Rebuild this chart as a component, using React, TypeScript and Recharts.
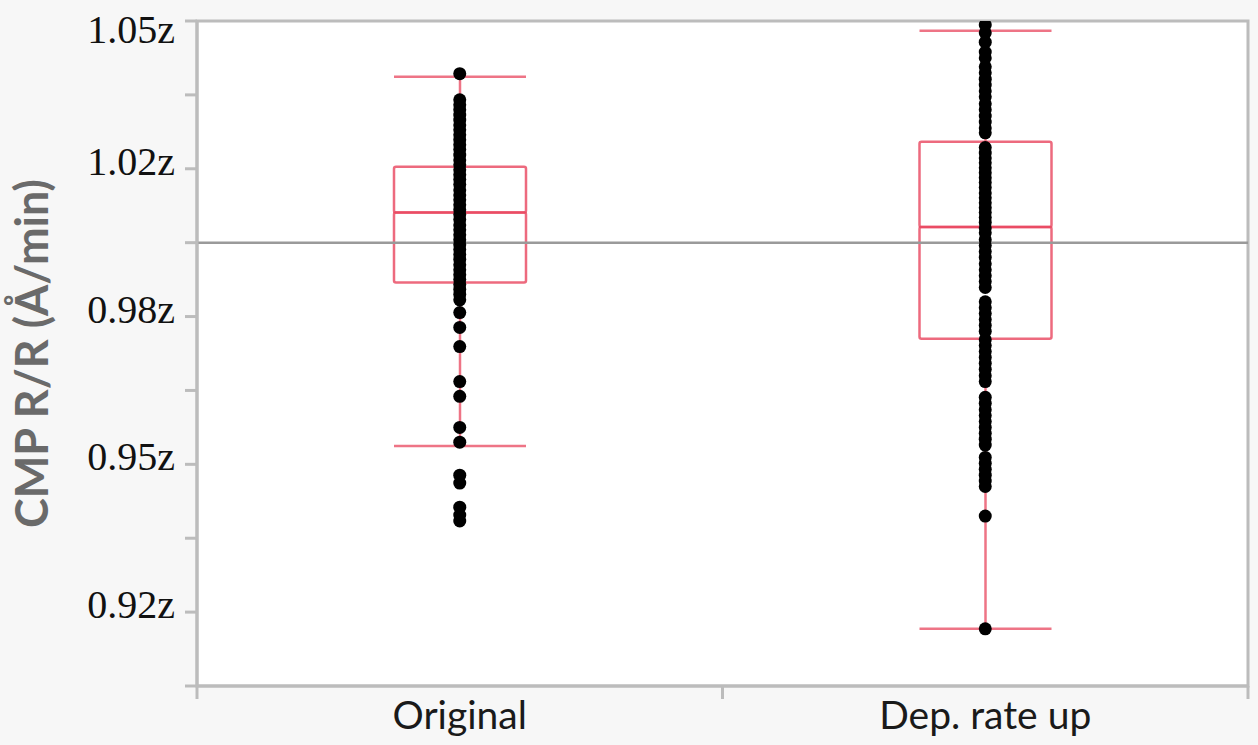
import { ComposedChart, Bar, Scatter, XAxis, YAxis, ReferenceLine, ReferenceArea, CartesianGrid, Label } from "recharts";

const categories = ["Original", "Dep. rate up"];
const whiskerLow = [0.9587, 0.9216];
const q1 = [0.9919, 0.9805];
const median = [1.0061, 1.0032];
const q3 = [1.0154, 1.0205];
const whiskerHigh = [1.0337, 1.043];

const originalPoints = [
  1.0343, 1.029, 1.028, 1.027, 1.0259, 1.0249, 1.0239, 1.0229, 1.0219, 1.0209, 1.0199, 1.0189, 1.0178,
  1.0168, 1.0158, 1.0148, 1.0138, 1.0128, 1.0118, 1.0107, 1.0097, 1.0087, 1.0077, 1.0067, 1.0057, 1.0047,
  1.0036, 1.0026, 1.0016, 1.0006, 0.9996, 0.9986, 0.9976, 0.9966, 0.9955, 0.9945, 0.9935, 0.9925, 0.9915,
  0.9905, 0.9895, 0.9884, 0.9858, 0.9828, 0.9789, 0.9718, 0.9688, 0.9625, 0.9595, 0.9528, 0.9512, 0.9463,
  0.9447, 0.9435,
];

const depRatePoints = [
  1.0442, 1.0426, 1.0407, 1.0387, 1.0375, 1.0357, 1.0345, 1.0332, 1.032, 1.0308, 1.0296, 1.0282, 1.027,
  1.0257, 1.0245, 1.0233, 1.0223, 1.0193, 1.0182, 1.0172, 1.0162, 1.0152, 1.0142, 1.0132, 1.0122, 1.0112,
  1.0101, 1.0091, 1.0081, 1.0071, 1.0061, 1.0051, 1.0041, 1.003, 1.002, 1.0006, 0.9994, 0.9982, 0.997,
  0.9957, 0.9945, 0.9933, 0.9921, 0.9909, 0.988, 0.9868, 0.9856, 0.9844, 0.9832, 0.982, 0.9803, 0.9791,
  0.9779, 0.9767, 0.9755, 0.9743, 0.973, 0.9718, 0.9686, 0.9674, 0.9661, 0.9649, 0.9637, 0.9625, 0.9613,
  0.9601, 0.9589, 0.9564, 0.9552, 0.954, 0.9528, 0.9516, 0.9505, 0.9445, 0.9216,
];

const yTicks = [1.045, 1.03, 1.015, 1.0, 0.985, 0.97, 0.955, 0.94, 0.925, 0.91];
const yTickLabels = ["1.05z", "", "1.02z", "", "0.98z", "", "0.95z", "", "0.92z", ""];
const targetValue = 1.0;

const boxData = categories.map((name, i) => ({
  name,
  base: whiskerLow[i],
  lowerWhisker: q1[i] - whiskerLow[i],
  lowerBox: median[i] - q1[i],
  upperBox: q3[i] - median[i],
  upperWhisker: whiskerHigh[i] - q3[i],
}));

const pointData = [
  ...originalPoints.map((value) => ({ name: categories[0], value })),
  ...depRatePoints.map((value) => ({ name: categories[1], value })),
];

const RED = "#e8455e";
const AXIS = "#bcbcbc";

const LowerWhisker = (props: any) => {
  const { x, y, width, height } = props;
  const cx = x + width / 2;
  return (
    <g stroke={RED} strokeWidth={2.5} strokeOpacity={0.75}>
      <line x1={cx} x2={cx} y1={y} y2={y + height} />
      <line x1={x} x2={x + width} y1={y + height} y2={y + height} />
    </g>
  );
};

const UpperWhisker = (props: any) => {
  const { x, y, width, height } = props;
  const cx = x + width / 2;
  return (
    <g stroke={RED} strokeWidth={2.5} strokeOpacity={0.75}>
      <line x1={cx} x2={cx} y1={y} y2={y + height} />
      <line x1={x} x2={x + width} y1={y} y2={y} />
    </g>
  );
};

const BoxPart = (props: any) => {
  const { x, y, width, height } = props;
  return <rect x={x} y={y} width={width} height={height} rx={2} fill="none" stroke={RED} strokeWidth={2.5} strokeOpacity={0.8} />;
};

const Dot = (props: any) => <circle cx={props.cx} cy={props.cy} r={6.5} fill="#000" />;

const YTick = (props: any) => {
  const { x, y, index } = props;
  const text = yTickLabels[index];
  if (!text) return null;
  const dy = index === 0 ? 22 : 6;
  return (
    <text x={x - 10} y={y + dy} textAnchor="end" fontFamily="'Liberation Serif', serif" fontSize={40} fill="#111">
      {text}
    </text>
  );
};

const XTick = (props: any) => {
  const { x, y, payload } = props;
  const off = payload?.offset ?? 0;
  const axisY = y - 13;
  return (
    <g>
      <line x1={x - off} x2={x - off} y1={axisY} y2={axisY + 13} stroke={AXIS} strokeWidth={3} />
      <line x1={x + off} x2={x + off} y1={axisY} y2={axisY + 13} stroke={AXIS} strokeWidth={3} />
      <text x={x} y={axisY + 43} textAnchor="middle" fontFamily="Lato, sans-serif" fontSize={39} fill="#1a1a1a">
        {payload.value}
      </text>
    </g>
  );
};

const YLabel = (props: any) => {
  const vb = props.viewBox ?? { x: 0, y: 21, height: 665 };
  const cx = vb.x + 31;
  const cy = vb.y + vb.height / 2;
  return (
    <text
      transform={`translate(${cx},${cy}) rotate(-90)`}
      textAnchor="middle"
      dominantBaseline="central"
      fontFamily="Lato, sans-serif"
      fontWeight={700}
      fontSize={45}
      fill="#6a6a6a"
    >
      CMP R/R (Å/min)
    </text>
  );
};

export default function App() {
  return (
    <div style={{ position: "absolute", left: 0, top: 0, width: 1258, height: 745, background: "#f7f7f7" }}>
      <ComposedChart width={1258} height={745} data={boxData} margin={{ top: 21, right: 10, bottom: 0, left: 0 }}>
        <CartesianGrid horizontal={false} vertical={false} fill="#ffffff" />
        <ReferenceArea y1={0.91} y2={1.045} fill="none" stroke={AXIS} strokeWidth={3} ifOverflow="visible" />
        <XAxis
          dataKey="name"
          type="category"
          allowDuplicatedCategory={false}
          height={59}
          axisLine={{ stroke: AXIS, strokeWidth: 3 }}
          tickLine={false}
          tickSize={13}
          tickMargin={0}
          tick={<XTick />}
          interval={0}
        />
        <YAxis
          type="number"
          domain={[0.91, 1.045]}
          ticks={yTicks}
          allowDataOverflow
          interval={0}
          width={197}
          axisLine={{ stroke: AXIS, strokeWidth: 3 }}
          tickLine={{ stroke: AXIS, strokeWidth: 3 }}
          tickSize={12}
          tickMargin={0}
          tick={<YTick />}
        >
          <Label content={<YLabel />} />
        </YAxis>
        <ReferenceLine y={targetValue} stroke="#9a9a9a" strokeWidth={2.5} />
        <Bar dataKey="base" stackId="box" barSize={132} fill="transparent" isAnimationActive={false} />
        <Bar dataKey="lowerWhisker" stackId="box" barSize={132} shape={<LowerWhisker />} isAnimationActive={false} />
        <Bar dataKey="lowerBox" stackId="box" barSize={132} shape={<BoxPart />} isAnimationActive={false} />
        <Bar dataKey="upperBox" stackId="box" barSize={132} shape={<BoxPart />} isAnimationActive={false} />
        <Bar dataKey="upperWhisker" stackId="box" barSize={132} shape={<UpperWhisker />} isAnimationActive={false} />
        <Scatter data={pointData} dataKey="value" shape={<Dot />} isAnimationActive={false} />
      </ComposedChart>
    </div>
  );
}
